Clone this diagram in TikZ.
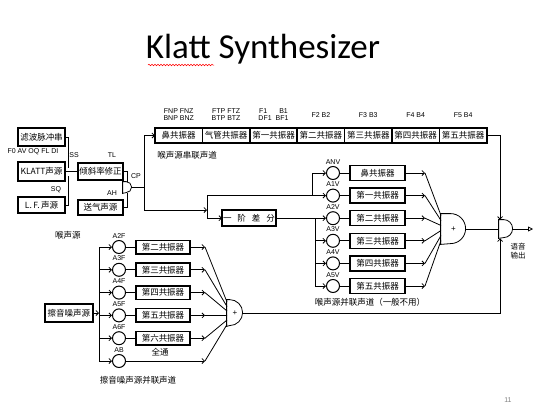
\documentclass[tikz,border=0pt]{standalone}
\usepackage{fontspec}
\setmainfont{Liberation Sans}
\newfontfamily\cjk{Noto Sans CJK SC}
\newfontfamily\titlefont{Carlito}
\usetikzlibrary{arrows.meta,positioning,decorations.pathmorphing}

\begin{document}
\begin{tikzpicture}[
    x=1pt, y=-1pt,
    >={Straight Barb[length=2.5pt,width=5pt]},
    line width=0.8pt,
    resbox/.style={draw, line width=1.5pt, outer sep=0pt, inner sep=0pt, minimum height=15pt, font=\cjk\fontsize{8.5}{8.5}\selectfont},
    srcbox/.style={draw, line width=1.5pt, inner sep=0pt, minimum width=47pt, font=\cjk\fontsize{8.5}{8.5}\selectfont},
    gain/.style={draw, circle, line width=1pt, minimum size=13pt, inner sep=0pt},
    adder/.style={inner sep=0pt, font=\fontsize{8}{8}\selectfont},
    param/.style={font=\fontsize{7}{7.5}\selectfont, inner sep=0pt, align=center},
    cnlabel/.style={font=\cjk\fontsize{8.5}{9}\selectfont, inner sep=0pt},
]

\useasboundingbox (0,0) rectangle (542,408);

% === Title ===
\node[font=\titlefont\fontsize{35}{35}\selectfont, inner sep=0pt] (title) at (263,49) {Klatt Synthesizer};
\draw[red, line width=0.5pt, decorate, decoration={snake, amplitude=0.8pt, segment length=3pt}] (148,65) -- (214,65);

% === Glottal sources ===
\node[srcbox, minimum height=18pt] (pulse) at (41.5,137) {滤波脉冲串};
\node[param] (srcpar) at (33,152) {F0 AV OQ FL DI};
\node[srcbox, minimum height=19pt] (klatt) at (41.5,171.5) {KLATT声源};
\node[srcbox, minimum height=16pt] (lf) at (41.5,205) {L.\,F.\,声源};
\node[param] (ss) at (74,155) {SS};
\node[param] (sq) at (56,190) {SQ};
\node[cnlabel] (glotlab) at (68,235) {喉声源};

\coordinate (swA) at (68,168);
\coordinate (swB) at (68,176);
\draw (pulse.east) -| (swA);
\draw (lf.east) -| (swB);

% === Tilt, aspiration, CP ===
\node[srcbox, minimum width=45pt, minimum height=17pt] (tilt) at (100.5,171.5) {倾斜率修正};
\node[param] (tl) at (112,155) {TL};
\node[srcbox, minimum width=45pt, minimum height=15pt] (asp) at (100.5,207.5) {送气声源};
\node[param] (ah) at (112,193) {AH};
\draw (klatt.east) -- (tilt.west);

\node[adder, minimum width=9pt, minimum height=11pt] (cp) at (127.5,187.5) {};
\draw (cp.south west) -- (cp.north west) -- ++(3.5,0) arc[start angle=90, end angle=-90, radius=5.5pt] -- cycle;
\node[param] (cplab) at (136,176) {CP};
\draw (tilt.east) -| (cp.north);
\draw (asp.east) -| (cp.south);

% === Cascade branch ===
\coordinate (jct) at (144,187.5);
\draw (cp.east) -- (jct);
\foreach \txt [count=\i] in {鼻共振器,气管共振器,第一共振器,第二共振器,第三共振器,第四共振器,第五共振器}
    \node[resbox, minimum width=47.4pt] (casc\i) at ({178.7+47.4*(\i-1)},135.5) {\txt};
\draw[->] (jct) |- (casc1.west);

\node[param, above=7pt of casc1] (pn) {FNP FNZ\\BNP BNZ};
\node[param, above=7pt of casc2] (pt) {FTP FTZ\\BTP BTZ};
\node[param, above=7pt of casc3] (p1) {F1\hspace{12pt}B1\\DF1\hspace{4pt}BF1};
\node[param, above=10pt of casc4] (p2) {F2 B2};
\node[param, above=10pt of casc5] (p3) {F3 B3};
\node[param, above=10pt of casc6] (p4) {F4 B4};
\node[param, above=10pt of casc7] (p5) {F5 B4};
\node[cnlabel] (casclab) at (187,155) {喉声源串联声道};

% === Split and first difference ===
\coordinate (split) at (207,210);
\coordinate (splitT) at (207,195.6);
\coordinate (splitB) at (207,218.2);
\draw[->] (jct) |- (split);
\draw (splitT) -- (splitB);
\node[resbox, minimum width=54pt, minimum height=16pt] (diff) at (249,218.2) {一\hspace{6pt}阶\hspace{6pt}差\hspace{6pt}分};
\draw[->] (splitB) -- (diff.west);

% === Parallel bank (glottal) ===
\foreach \lab/\txt [count=\i from 0] in {ANV/鼻共振器, A1V/第一共振器, A2V/第二共振器, A3V/第三共振器, A4V/第四共振器, A5V/第五共振器} {
    \node[gain] (pg\i) at (333,{173+22.6*\i}) {};
    \node[param, above=1.5pt of pg\i] (pl\i) {\lab};
    \node[resbox, minimum width=55pt] (pr\i) at (377.5,{173+22.6*\i}) {\txt};
    \coordinate (pe\i) at (425,{173+22.6*\i});
    \coordinate (pin\i) at (441,{215.5+5*\i});
    \draw (pg\i) -- (pr\i);
    \draw[->] (pr\i) -- (pe\i);
    \draw (pe\i) -- (pin\i);
}
\coordinate (tapN) at (312,195.6);
\draw[->] (splitT) -- (pg1);
\draw[->] (tapN) |- (pg0);
\coordinate (tapD) at (315,218.2);
\draw (diff.east) -- (tapD) -- (pg5 -| tapD);
\foreach \i in {2,...,5}
    \draw[->] (pg\i -| tapD) -- (pg\i);

\node[adder, minimum width=25pt, minimum height=30pt] (addP) at (453.5,229) {+};
\draw (addP.south west) -- (addP.north west) -- ++(10,0) arc[start angle=90, end angle=-90, radius=15pt] -- cycle;
\node[cnlabel] (parlab) at (370,302) {喉声源并联声道（一般不用）};

% === Frication bank ===
\node[srcbox, minimum width=48pt, minimum height=18pt] (noise) at (69,313) {擦音噪声源};
\coordinate (busF) at (99,313);
\draw[->] (noise.east) -- (busF);
\foreach \lab/\txt [count=\i from 0] in {A2F/第二共振器, A3F/第三共振器, A4F/第四共振器, A5F/第五共振器, A6F/第六共振器} {
    \node[gain] (fg\i) at (119,{247+22.8*\i}) {};
    \node[param, above=1.5pt of fg\i] (fl\i) {\lab};
    \node[resbox, minimum width=54pt, minimum height=13.5pt] (fr\i) at (163,{247+22.8*\i}) {\txt};
    \coordinate (fe\i) at (205,{247+22.8*\i});
    \coordinate (fin\i) at (227,{302+4.5*\i});
    \draw (fg\i) -- (fr\i);
    \draw[->] (fr\i) -- (fe\i);
    \draw (fe\i) -- (fin\i);
}
\node[gain] (fg5) at (119,361) {};
\node[param, above=1.5pt of fg5] (fl5) {AB};
\coordinate (fe5) at (205,361);
\coordinate (fin5) at (227,324.5);
\draw[->] (fg5) -- (fe5);
\draw (fe5) -- (fin5);
\node[cnlabel] (allpass) at (160,352) {全通};
\draw (fg0 -| busF) -- (fg5 -| busF);
\foreach \i in {0,...,5}
    \draw[->] (fg\i -| busF) -- (fg\i);

\node[adder, minimum width=16pt, minimum height=26pt] (addF) at (235,313) {+};
\draw (addF.south west) -- (addF.north west) -- ++(3,0) arc[start angle=90, end angle=-90, radius=13pt] -- cycle;
\node[cnlabel] (friclab) at (138,380) {擦音噪声源并联声道};

% === Output ===
\node[adder, minimum width=14pt, minimum height=18pt] (addO) at (506,229) {};
\draw (addO.south west) -- (addO.north west) -- ++(5,0) arc[start angle=90, end angle=-90, radius=9pt] -- cycle;
\draw (addP.east) -- (addO.west);
\draw[->] (casc7.east) -| ([xshift=1.5pt]addO.north west);
\draw[->] (addF.east) -| ([xshift=1.5pt]addO.south west);
\coordinate (speech) at (533,229);
\draw[-{Triangle[open,length=5pt,width=5pt]}] (addO.east) -- (speech);
\node[cnlabel, align=center, font=\cjk\fontsize{7.5}{9}\selectfont] (outlab) at (518,251) {语音\\输出};

\node[gray, font=\fontsize{7}{7}\selectfont] (pgnum) at (508,400) {11};

\end{tikzpicture}
\end{document}
